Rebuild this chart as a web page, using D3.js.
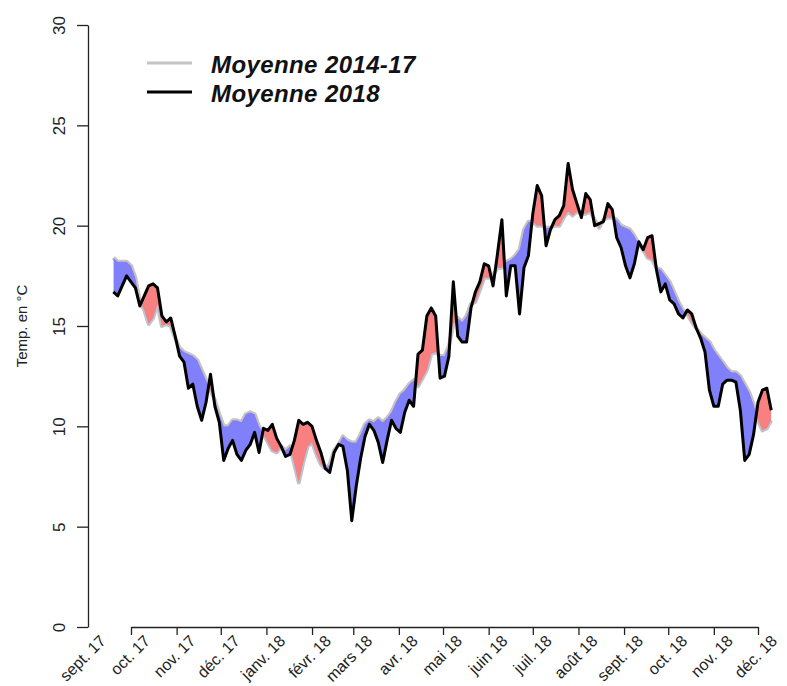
<!DOCTYPE html>
<html lang="fr">
<head>
    <meta charset="UTF-8">
    <title>Températures moyennes</title>
    <style>
        body { margin: 0; background: #fff; }
        text { font-family: "Liberation Sans", Arial, sans-serif; }
    </style>
</head>
<body>
    <div id="graph"></div>
    <script src="https://d3js.org/d3.v7.min.js"></script>
    <script>
        // Dimensions de la figure
        const WIDTH = 787;
        const HEIGHT = 686;

        // Série 2018 (trait noir), une valeur tous les 3 jours à partir du 19 sept. 2017
        const DEBUT = new Date(2017, 8, 19);
        const PAS_JOURS = 3;
        const MOYENNE_2018 = [
            16.7, 16.5, 17.0, 17.5, 17.2, 16.9, 16.0, 16.5, 17.0, 17.1,
            16.9, 15.5, 15.2, 15.4, 14.5, 13.5, 13.2, 11.9, 12.1, 11.0,
            10.3, 11.2, 12.6, 11.0, 10.2, 8.3, 8.9, 9.3, 8.6, 8.3,
            8.8, 9.1, 9.7, 8.7, 9.9, 9.8, 10.1, 9.4, 9.0, 8.5,
            8.6, 9.3, 10.3, 10.1, 10.2, 10.0, 9.3, 8.7, 7.9, 7.7,
            8.7, 9.1, 9.0, 7.8, 5.3, 7.0, 8.4, 9.5, 10.1, 9.8,
            9.2, 8.2, 9.3, 10.3, 9.9, 9.7, 10.7, 11.3, 11.0, 13.6,
            13.8, 15.5, 15.9, 15.5, 12.4, 12.5, 13.5, 17.2, 14.5, 14.2,
            14.2, 15.9, 16.7, 17.2, 18.1, 18.0, 17.0, 18.6, 20.3, 16.5,
            18.0, 18.0, 15.6, 17.9, 18.5, 20.6, 22.0, 21.5, 19.0, 19.8,
            20.3, 20.5, 21.0, 23.1, 21.8, 21.1, 20.4, 21.6, 21.3, 20.0,
            20.1, 20.2, 21.1, 20.8, 19.4, 18.9, 18.0, 17.4, 18.1, 19.2,
            18.8, 19.4, 19.5, 17.8, 16.7, 17.1, 16.3, 16.1, 15.6, 15.4,
            15.8, 15.6, 14.9, 14.4, 13.7, 11.8, 11.0, 11.0, 12.1, 12.3,
            12.3, 12.2, 10.8, 8.3, 8.6, 9.6, 11.2, 11.8, 11.9, 10.8
        ];

        // Moyenne 2014-17 (trait gris), mêmes dates
        const MOYENNE_2014_17 = [
            18.4, 18.2, 18.2, 18.2, 18.0, 17.4, 16.2, 15.8, 15.1, 15.4,
            16.1, 15.0, 15.1, 15.0, 14.4, 13.9, 13.7, 13.6, 13.5, 13.3,
            12.8, 12.3, 11.8, 11.3, 10.6, 10.0, 10.0, 10.3, 10.3, 10.2,
            10.6, 10.7, 10.6, 10.0, 9.6, 9.2, 8.8, 8.7, 9.0, 8.8,
            9.0, 8.1, 7.2, 8.2, 9.0, 9.2, 8.6, 8.1, 7.9, 8.1,
            8.8, 9.1, 9.5, 9.3, 9.2, 9.2, 9.6, 10.1, 10.3, 10.2,
            10.4, 10.2, 10.4, 10.7, 11.2, 11.6, 11.8, 12.1, 12.3, 12.0,
            12.4, 12.8, 13.6, 13.7, 13.5, 13.5, 14.0, 15.1, 15.4, 15.2,
            15.5, 16.1, 16.2, 16.8, 17.4, 17.4, 17.5, 17.9, 17.9, 18.2,
            18.3, 18.5, 18.8, 19.8, 20.2, 20.2, 20.0, 20.0, 19.9, 19.9,
            20.0, 20.0, 20.4, 20.7, 20.5, 20.7, 20.6, 20.6, 20.7, 20.3,
            19.9, 20.3, 20.4, 20.4, 20.3, 20.0, 19.9, 19.8, 19.5, 19.1,
            18.8, 18.4, 18.3, 17.9, 17.8, 17.5, 17.2, 16.7, 16.2, 15.8,
            15.6, 15.2, 14.9, 14.6, 14.4, 14.2, 13.8, 13.5, 13.2, 12.9,
            12.7, 12.7, 12.5, 12.1, 11.7, 11.1, 10.3, 9.8, 9.9, 10.3
        ];

        // Étiquettes de l'axe des x (premier jour de chaque mois)
        const MOIS = [
            "sept. 17", "oct. 17", "nov. 17", "déc. 17", "janv. 18", "févr. 18",
            "mars 18", "avr. 18", "mai 18", "juin 18", "juil. 18", "août 18",
            "sept. 18", "oct. 18", "nov. 18", "déc. 18"
        ];
        const PREMIER_MOIS = new Date(2017, 8, 1);
        const Y_TICKS = [0, 5, 10, 15, 20, 25, 30];
        const LEGENDE = ["Moyenne 2014-17", "Moyenne 2018"];

        const dates = MOYENNE_2018.map((_, i) => d3.timeDay.offset(DEBUT, i * PAS_JOURS));
        const datesMois = MOIS.map((_, i) => d3.timeMonth.offset(PREMIER_MOIS, i));
        const donnees = dates.map((d, i) => ({ date: d, val: MOYENNE_2018[i], ref: MOYENNE_2014_17[i] }));

        // Échelles
        const xScale = d3.scaleTime()
            .domain([datesMois[1], datesMois[datesMois.length - 1]])
            .range([131, 758]);
        const yScale = d3.scaleLinear()
            .domain([0, 30])
            .range([627, 25]);

        const svg = d3.select("#graph")
            .append("svg")
            .attr("width", WIDTH)
            .attr("height", HEIGHT);

        // Zones de découpe : au-dessus / au-dessous de la moyenne 2014-17
        const defs = svg.append("defs");
        defs.append("clipPath").attr("id", "dessus")
            .append("path")
            .attr("d", d3.area().x(d => xScale(d.date)).y0(d => yScale(d.ref)).y1(0)(donnees));
        defs.append("clipPath").attr("id", "dessous")
            .append("path")
            .attr("d", d3.area().x(d => xScale(d.date)).y0(d => yScale(d.ref)).y1(HEIGHT)(donnees));

        const entre = d3.area()
            .x(d => xScale(d.date))
            .y0(d => yScale(d.ref))
            .y1(d => yScale(d.val));

        const ligne = key => d3.line()
            .x(d => xScale(d.date))
            .y(d => yScale(d[key]));

        // Moyenne 2014-17 en gris
        svg.append("path")
            .datum(donnees)
            .attr("d", ligne("ref"))
            .attr("fill", "none")
            .attr("stroke", "#c4c4c4")
            .attr("stroke-width", 4)
            .attr("stroke-linejoin", "round");

        // Remplissage : rouge si 2018 plus chaud, bleu sinon
        svg.append("path")
            .datum(donnees)
            .attr("d", entre)
            .attr("fill", "#f88080")
            .attr("clip-path", "url(#dessus)");
        svg.append("path")
            .datum(donnees)
            .attr("d", entre)
            .attr("fill", "#8080fb")
            .attr("clip-path", "url(#dessous)");

        // Série 2018 en noir
        svg.append("path")
            .datum(donnees)
            .attr("d", ligne("val"))
            .attr("fill", "none")
            .attr("stroke", "#000")
            .attr("stroke-width", 3)
            .attr("stroke-linejoin", "round");

        // Axe des y
        const axeY = svg.append("g")
            .attr("transform", "translate(88,0)")
            .call(d3.axisLeft(yScale).tickValues(Y_TICKS).tickSize(11).tickSizeOuter(0));
        axeY.selectAll("text")
            .attr("x", 0).attr("dy", 0)
            .attr("text-anchor", "middle")
            .attr("transform", "translate(-23,0) rotate(-90)")
            .attr("fill", "#222")
            .style("font-size", "17px");

        // Axe des x
        const axeX = svg.append("g")
            .attr("transform", "translate(0,627)")
            .call(d3.axisBottom(xScale).tickValues(datesMois.slice(1)).tickFormat("").tickSize(8).tickSizeOuter(0));
        [axeY, axeX].forEach(a => {
            a.selectAll("path, line").attr("stroke", "#222").attr("stroke-width", 1.3);
            a.attr("font-family", null);
        });

        svg.append("g")
            .selectAll("text")
            .data(MOIS)
            .enter()
            .append("text")
            .attr("transform", (d, i) => `translate(${xScale(datesMois[i]) + 20},642) rotate(-45)`)
            .attr("text-anchor", "end")
            .attr("fill", "#222")
            .style("font-size", "16px")
            .text(d => d);

        // Titre de l'axe des y
        svg.append("text")
            .attr("transform", "translate(27,326) rotate(-90)")
            .attr("text-anchor", "middle")
            .attr("fill", "#222")
            .style("font-size", "15px")
            .text("Temp. en °C");

        // Légende
        const legende = svg.append("g");
        legende.selectAll("line")
            .data(LEGENDE)
            .enter()
            .append("line")
            .attr("x1", 147).attr("x2", 192)
            .attr("y1", (d, i) => 63 + i * 29).attr("y2", (d, i) => 63 + i * 29)
            .attr("stroke", (d, i) => i === 0 ? "#c4c4c4" : "#000")
            .attr("stroke-width", 3);
        legende.selectAll("text")
            .data(LEGENDE)
            .enter()
            .append("text")
            .attr("x", 211)
            .attr("y", (d, i) => 73 + i * 29)
            .style("font-size", "24px")
            .style("letter-spacing", "0.4px")
            .style("font-weight", "bold")
            .style("font-style", "italic")
            .attr("fill", "#111")
            .text(d => d);
    </script>
</body>
</html>
